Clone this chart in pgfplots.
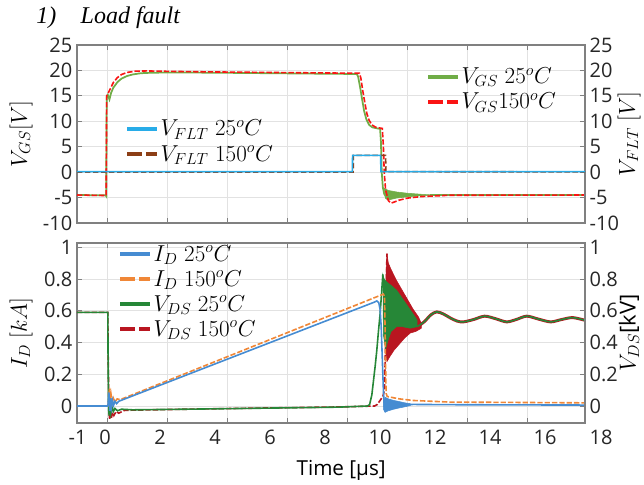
\documentclass[border=0pt]{standalone}
\usepackage{fontspec}
\setmainfont{Open Sans}
\newfontfamily\titlefont{Liberation Serif}
\usepackage{pgfplots}
\pgfplotsset{compat=1.18}

\definecolor{vgsA}{RGB}{112,173,71}
\definecolor{vgsB}{RGB}{250,20,20}
\definecolor{vfltA}{RGB}{40,172,232}
\definecolor{vfltB}{RGB}{140,62,22}
\definecolor{idA}{RGB}{70,140,210}
\definecolor{idB}{RGB}{240,135,55}
\definecolor{vdsA}{RGB}{38,135,55}
\definecolor{vdsB}{RGB}{185,22,32}
\definecolor{boxgray}{RGB}{128,128,128}
\definecolor{gridgray}{RGB}{226,226,226}

\pgfplotsset{
  common/.style={
    scale only axis, width=381pt,
    xmin=-1.02, xmax=17.45,
    tick align=inside, major tick length=4pt,
    axis line style={boxgray, line width=0.8pt},
    tick style={boxgray, line width=0.6pt},
    tick label style={font=\fontsize{15}{17}\selectfont, text=black!85},
    /pgf/number format/assume math mode=true,
    legend image code/.code={\draw[##1] (0pt,0pt) -- (22pt,0pt);},
    legend style={draw=none, fill=none, inner sep=0pt, row sep=2.5pt,
      font=\fontsize{16.5}{18}\selectfont, nodes={inner sep=1.5pt}},
    legend cell align=left,
    label style={font=\fontsize{16.5}{18}\selectfont},
  },
  panel/.style={
    common,
    xtick={0.07,2.25,4.44,6.62,8.80,10.98,13.16,15.35},
    grid=major, major grid style={gridgray, line width=0.6pt},
    ylabel style={at={(rel axis cs:0,0.5)}, anchor=center, yshift=42pt},
  },
  twin/.style={
    common,
    axis x line=none, axis y line*=right,
    ylabel style={at={(rel axis cs:1,0.5)}, anchor=center, yshift=-33pt},
  },
}

\begin{document}
\begin{tikzpicture}

% ---------- top panel: gate voltage ----------
\begin{axis}[panel, at={(57.75pt,-33.75pt)}, anchor=north west, height=133.5pt,
  ymin=-10, ymax=25, ytick={-10,-5,0,5,10,15,20,25},
  xticklabels={,,,,,,,},
  ylabel={$V_{GS}[V]$},
  legend style={at={(0.687,0.885)}, anchor=north west}]
% V_GS 25C
\addplot[vgsA, line width=1.3pt, forget plot] coordinates {
  (-1.02,-4.5) (0.02,-4.55) (0.04,-4.7) (0.06,14.8) (0.1,15.2) (0.16,14.3)
  (0.22,15.6) (0.3,16.6) (0.45,17.7) (0.6,18.4) (0.8,18.9) (1.0,19.2)
  (1.3,19.45) (1.7,19.55) (2.5,19.6) (4,19.55) (6,19.45) (8,19.35)
  (9.15,19.3) (9.2,18.8) (9.28,16.5) (9.35,14.2) (9.42,12.0) (9.5,10.4)
  (9.6,9.3) (9.72,8.8) (9.9,8.6) (10.0,8.5) (10.03,6) (10.06,0)
  (10.1,-3) (10.15,-4.3) (10.25,-5.2)};
\addplot[vgsA, fill=vgsA, line width=0.4pt, forget plot] coordinates {
  (10.15,-3.2) (10.3,-3.6) (10.6,-3.9) (11.0,-4.15) (11.5,-4.35) (11.8,-4.45)
  (11.8,-4.55) (11.5,-4.65) (11.0,-4.85) (10.6,-5.1) (10.4,-5.35) (10.3,-5.5)
  (10.2,-5.2)} -- cycle;
\addplot[vgsA, line width=1.3pt, forget plot] coordinates {
  (11.8,-4.5) (13,-4.5) (15,-4.5) (17.45,-4.5)};
% V_GS 150C
\addplot[vgsB, line width=1.2pt, dash pattern=on 4pt off 1.5pt, forget plot] coordinates {
  (-1.02,-4.5) (0.04,-4.6) (0.06,15) (0.12,15.6) (0.2,16.5) (0.3,17.6)
  (0.45,18.6) (0.6,19.2) (0.8,19.6) (1.1,19.85) (1.5,19.9) (2.5,19.8)
  (4,19.7) (6,19.6) (8,19.5) (9.25,19.45) (9.3,18.5) (9.37,16) (9.45,13.5)
  (9.52,11.5) (9.6,10.2) (9.7,9.3) (9.85,8.8) (10.08,8.6) (10.12,5)
  (10.15,0) (10.2,-3.5) (10.3,-5.6) (10.4,-6.1) (10.5,-5.9) (10.7,-5.5)
  (11,-5.1) (11.5,-4.8) (12.5,-4.55) (17.45,-4.5)};
\addlegendimage{vgsA, line width=3pt}
\addlegendentry{$V_{GS}\;25^{o}C$}
\addlegendimage{vgsB, line width=3pt, dash pattern=on 11pt off 3pt}
\addlegendentry{$V_{GS}150^{o}C$}
\end{axis}

\begin{axis}[twin, at={(57.75pt,-33.75pt)}, anchor=north west, height=133.5pt,
  ymin=-10, ymax=25, ytick={-10,-5,0,5,10,15,20,25},
  ylabel={$V_{FLT}\;[V]$},
  legend style={at={(0.0945,0.59)}, anchor=north west}]
% V_FLT 150C
\addplot[vfltB, line width=1.2pt, dash pattern=on 4pt off 2pt, forget plot] coordinates {
  (-1.02,0) (9.02,0) (9.03,3.3) (10.2,3.3) (10.21,0.1) (17.45,0.05)};
% V_FLT 25C
\addplot[vfltA, line width=1.2pt, forget plot] coordinates {
  (-1.02,0.1) (8.99,0.1) (9.0,3.3) (10.02,3.3) (10.03,0.1) (17.45,0.1)};
\addlegendimage{vfltA, line width=3pt}
\addlegendentry{$V_{FLT}\;25^{o}C$}
\addlegendimage{vfltB, line width=3pt, dash pattern=on 11pt off 3pt}
\addlegendentry{$V_{FLT}\;150^{o}C$}
\end{axis}

% ---------- bottom panel: drain current and voltage ----------
\begin{axis}[panel, at={(57.75pt,-182.25pt)}, anchor=north west, height=135pt,
  ymin=-0.107, ymax=1.027, ytick={0,0.2,0.4,0.6,0.8,1},
  xtick={0.07,2.25,4.44,6.62,8.80,10.98,13.16,15.35,17.45},
  xticklabels={,,,,,,,,18},
  xticklabel style={anchor=north west, yshift=-2pt},
  extra x ticks={-1,0,2,4,6,8,10,12,14,16},
  extra x tick labels={-1,0,2,4,6,8,10,12,14,16},
  extra x tick style={grid=none, major tick length=0pt, xticklabel style={anchor=north}},
  xlabel={Time [µs]},
  xlabel style={at={(rel axis cs:0.52,0)}, anchor=base, yshift=-39pt, font=\fontsize{15.5}{17}\selectfont},
  ylabel={$I_D\ [kA]$},
  legend style={at={(0.081,1.0)}, anchor=north west}]
% V_DS 150C
\addplot[vdsB, line width=1.2pt, dash pattern=on 4pt off 1.5pt, forget plot] coordinates {
  (-1.02,0.59) (0.1,0.59) (0.115,0.3) (0.14,-0.04) (0.17,-0.085) (0.2,-0.03)
  (0.23,-0.075) (0.27,-0.04) (0.32,-0.06) (0.4,-0.035) (0.5,-0.045)
  (0.7,-0.028) (1.0,-0.026) (3,-0.02) (6,-0.012) (8.5,-0.006) (9.8,0.0)
  (9.9,0.01) (10.0,0.035) (10.1,0.06) (10.16,0.1) (10.2,0.4) (10.23,0.8) (10.25,0.96)};
\addplot[vdsB, fill=vdsB, line width=0.4pt, forget plot] coordinates {
  (10.22,0.85) (10.25,0.96) (10.3,0.9) (10.4,0.86) (10.6,0.79) (10.8,0.73)
  (11.0,0.67) (11.2,0.61) (11.4,0.56) (11.5,0.52) (11.5,0.49) (11.3,0.47)
  (11.1,0.46) (10.9,0.43) (10.7,0.39) (10.5,0.35) (10.35,0.31) (10.25,0.28)
  (10.2,0.35)} -- cycle;
\addplot[vdsB, line width=2.2pt, smooth, forget plot] coordinates {
  (11.35,0.5) (11.6,0.53) (11.85,0.575) (12.06,0.593) (12.3,0.58) (12.55,0.555)
  (12.8,0.535) (13.03,0.53) (13.4,0.545) (13.8,0.566) (14.2,0.55) (14.6,0.53)
  (14.95,0.545) (15.33,0.566) (15.75,0.548) (16.2,0.53) (16.6,0.545)
  (17.0,0.557) (17.45,0.54)};
% V_DS 25C
\addplot[vdsA, line width=1.2pt, forget plot] coordinates {
  (-1.02,0.59) (0.1,0.59) (0.11,0.3) (0.13,-0.02) (0.15,-0.06) (0.18,0.01)
  (0.21,-0.045) (0.25,-0.005) (0.3,-0.035) (0.36,-0.015) (0.45,-0.03)
  (0.6,-0.02) (1.0,-0.024) (3,-0.02) (6,-0.013) (8.5,-0.007) (9.55,0)
  (9.62,0.01) (9.7,0.07) (9.76,0.16) (9.82,0.25) (9.88,0.35) (9.94,0.47)
  (10.0,0.58) (10.05,0.7) (10.1,0.83)};
\addplot[vdsA, fill=vdsA, line width=0.4pt, forget plot] coordinates {
  (10.1,0.83) (10.15,0.8) (10.25,0.78) (10.4,0.76) (10.6,0.73) (10.8,0.68)
  (11.0,0.63) (11.2,0.58) (11.35,0.54) (11.35,0.5) (11.1,0.49) (10.8,0.5)
  (10.6,0.5) (10.4,0.47) (10.3,0.42) (10.2,0.36) (10.12,0.45)} -- cycle;
\addplot[vdsA, line width=1.2pt, smooth, forget plot] coordinates {
  (11.35,0.5) (11.6,0.53) (11.85,0.575) (12.06,0.593) (12.3,0.58) (12.55,0.555)
  (12.8,0.535) (13.03,0.53) (13.4,0.545) (13.8,0.566) (14.2,0.55) (14.6,0.53)
  (14.95,0.545) (15.33,0.566) (15.75,0.548) (16.2,0.53) (16.6,0.545)
  (17.0,0.557) (17.45,0.54)};
% I_D 150C
\addplot[idB, line width=1.2pt, dash pattern=on 4pt off 1.5pt, forget plot] coordinates {
  (-1.02,0.0) (0.1,0.0) (0.13,0.02) (0.16,0.11) (0.19,0.0) (0.22,0.07)
  (0.26,0.02) (0.3,0.05) (0.36,0.025) (0.44,0.045) (0.55,0.04) (10.12,0.705)
  (10.16,0.69) (10.18,0.5) (10.2,0.25) (10.22,0.08) (10.26,0.06) (10.4,0.055)
  (10.7,0.045) (11.2,0.035) (12.5,0.025) (17.45,0.02)};
% I_D 25C
\addplot[idA, line width=1.2pt, forget plot] coordinates {
  (-1.02,0.0) (0.08,0.0) (0.11,0.01) (0.14,0.085) (0.17,-0.03) (0.2,0.05)
  (0.23,-0.01) (0.27,0.035) (0.31,0.005) (0.36,0.03) (0.42,0.015) (0.5,0.03)
  (9.8,0.655) (9.88,0.662) (9.95,0.652) (10.0,0.61) (10.04,0.5) (10.08,0.3)
  (10.12,0.1) (10.15,0.0) (11.2,0.01) (13,0.008) (17.45,0.006)};
\addplot[idA, fill=idA, line width=0.4pt, forget plot] coordinates {
  (10.12,0.02) (10.18,0.055) (10.3,0.045) (10.5,0.035) (10.7,0.028)
  (10.9,0.02) (11.1,0.015) (11.1,0.003) (10.9,-0.005) (10.7,-0.012)
  (10.5,-0.02) (10.3,-0.03) (10.18,-0.04) (10.12,-0.02)} -- cycle;
\addlegendimage{idA, line width=3pt}
\addlegendentry{$I_D\;25^{o}C$}
\addlegendimage{idB, line width=3pt, dash pattern=on 11pt off 3pt}
\addlegendentry{$I_D\;150^{o}C$}
\addlegendimage{vdsA, line width=3pt}
\addlegendentry{$V_{DS}\;25^{o}C$}
\addlegendimage{vdsB, line width=3pt, dash pattern=on 11pt off 3pt}
\addlegendentry{$V_{DS}\;150^{o}C$}
\end{axis}

\begin{axis}[twin, at={(57.75pt,-182.25pt)}, anchor=north west, height=135pt,
  ymin=-0.107, ymax=1.027, ytick={0,0.2,0.4,0.6,0.8,1},
  ylabel={$V_{DS}$[kV]}]
\end{axis}

\node[anchor=base west, font=\titlefont\itshape\fontsize{18}{20}\selectfont] at (23.75pt,-18pt) {1)};
\node[anchor=base west, font=\titlefont\itshape\fontsize{18}{20}\selectfont] at (57pt,-18pt) {Load fault};

\pgfresetboundingbox
\useasboundingbox (0,0) rectangle (483pt,-363.75pt);
\end{tikzpicture}
\end{document}
